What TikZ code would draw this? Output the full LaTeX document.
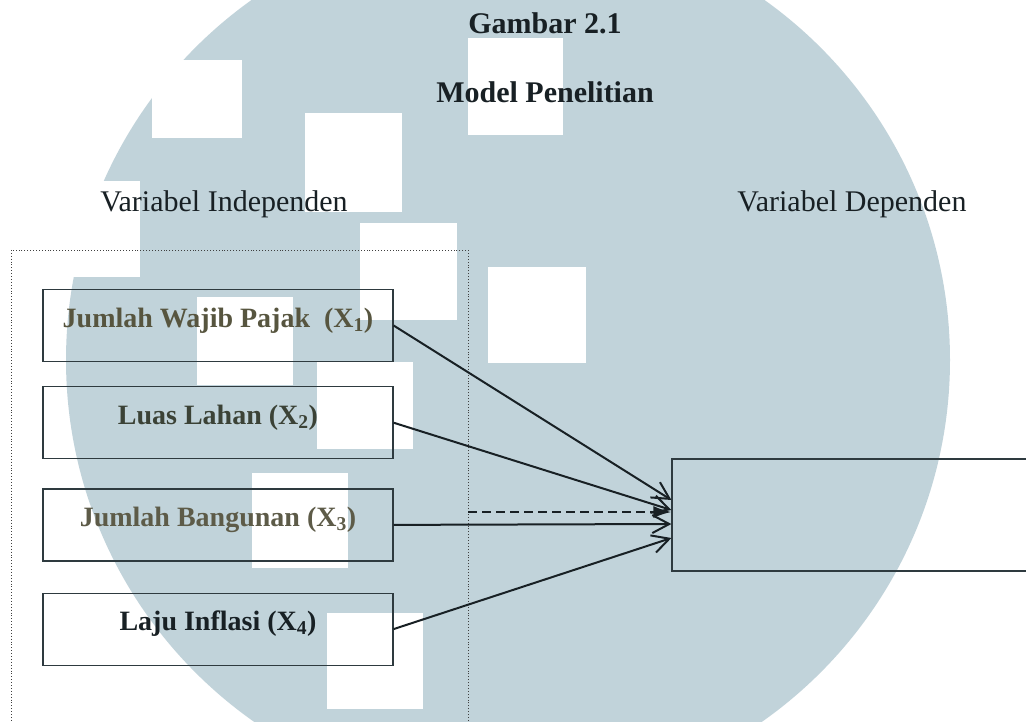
\documentclass[tikz,border=0pt]{standalone}
\usepackage{fontspec}
\setmainfont{Liberation Serif}
\usetikzlibrary{positioning,arrows.meta}
\definecolor{wmblue}{HTML}{C1D3DA}
\definecolor{inkdark}{HTML}{182024}
\definecolor{boxline}{HTML}{2E3A3F}
\definecolor{oliveA}{HTML}{57553F}
\definecolor{oliveB}{HTML}{3B4236}
\definecolor{oliveC}{HTML}{5D5B48}
\tikzset{
  ttlnode/.style={font=\fontsize{30}{36}\selectfont\bfseries, text=inkdark, inner sep=0pt},
  hdrnode/.style={font=\fontsize{30}{36}\selectfont, text=inkdark, inner sep=0pt},
  varbox/.style ={rectangle, draw=boxline, line width=1.2pt, minimum width=350pt,
                  minimum height=72pt, inner sep=0pt, text height=20pt, text depth=17pt,
                  font=\fontsize{28}{34}\selectfont\bfseries},
  depbox/.style ={rectangle, draw=boxline, line width=1.2pt, minimum width=378pt,
                  minimum height=112pt},
  frame/.style  ={draw=black!75, dotted, line width=0.9pt},
  arr/.style    ={-{Straight Barb[length=17pt,width=18pt]}, line width=2pt, draw=inkdark},
  darr/.style   ={-{Latex[length=18pt,width=12pt]}, line width=2pt,
                  dash pattern=on 9pt off 5pt, draw=inkdark}
}
\begin{document}
\begin{tikzpicture}[x=1pt, y=-1pt]
  \clip (0,0) rectangle (1026,722);
  \fill[wmblue] (508,360) circle[radius=442];
  \foreach \sx/\sy/\sw/\sh in {468/38/95/97, 305/113/97/99, 360/223/97/97, 488/267/98/96,
      197/297/96/88, 317/362/96/87, 252/473/96/95, 327/613/96/96, 152/60/90/78, 40/181/100/96}
    \fill[white] (\sx,\sy) rectangle ++(\sw,\sh);

  \node[ttlnode, anchor=base] (gbr) at (545,34) {Gambar 2.1};
  \node[ttlnode, anchor=base] (mdl) at (545,103) {Model Penelitian};
  \node[hdrnode, anchor=base] (vind) at (224,212) {Variabel Independen};
  \node[hdrnode, anchor=base] (vdep) at (852,212) {Variabel Dependen};

  \draw[frame] (11,250) rectangle (468,760);

  \node[varbox, text=oliveA] (b1) at (218,325.5) {Jumlah Wajib Pajak\ \ (X\textsubscript{1})};
  \node[varbox, text=oliveB, below=24pt of b1] (b2) {Luas Lahan (X\textsubscript{2})};
  \node[varbox, text=oliveC, below=29pt of b2] (b3) {Jumlah Bangunan (X\textsubscript{3})};
  \node[varbox, text=inkdark, below=31pt of b3] (b4) {Laju Inflasi (X\textsubscript{4})};

  \node[depbox] (dep) at (861,515) {};

  \draw[arr] (b1.east) -- ([yshift=15pt]dep.west);
  \draw[arr] (b2.east) -- ([yshift=5pt]dep.west);
  \draw[arr] (b3.east) -- ([yshift=-9pt]dep.west);
  \draw[arr] (b4.east) -- ([yshift=-23pt]dep.west);
  \coordinate (dsrc) at (468,512);
  \draw[darr] (dsrc) -- ([yshift=3pt]dep.west);
\end{tikzpicture}
\end{document}
